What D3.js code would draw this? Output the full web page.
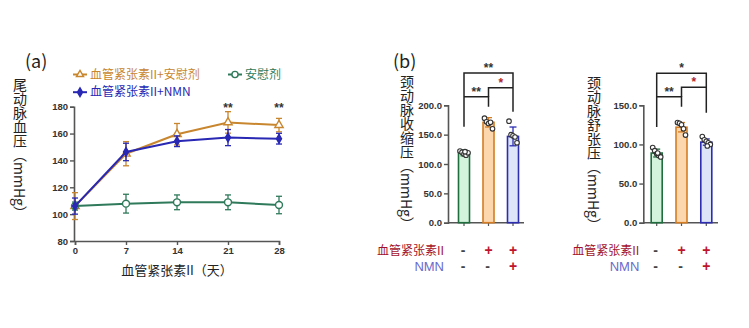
<!DOCTYPE html>
<html><head><meta charset="utf-8">
<script src="https://cdn.jsdelivr.net/npm/d3@7/dist/d3.min.js"></script>
<style>
html,body{margin:0;padding:0;background:#fff;}
svg{display:block;}
text{font-family:"Noto Sans CJK SC","Liberation Sans",sans-serif;}
.tick text{font-family:"Liberation Sans",Arial,sans-serif;font-weight:bold;font-size:9.5px;fill:#333;}
</style></head>
<body>
<svg id="chart" width="749" height="328"></svg>
<script>
// ---- Panel (a) data ----
const days = [0, 7, 14, 21, 28];
const angPlacebo = [106, 145, 159.5, 168.3, 166.3];
const angPlaceboErr = [10, 9, 8, 8, 5];
const angNMN = [106, 146.3, 154.3, 157, 156.2];
const angNMNErr = [6, 6.5, 4, 6, 4];
const placebo = [106, 107.8, 108.8, 108.8, 106.8];
const placeboErr = [3, 7, 5.5, 5.5, 6.5];
const yTicksA = [80, 100, 120, 140, 160, 180];
const sigA = [{day: 21, label: "**"}, {day: 28, label: "**"}];

// ---- Panel (b)/(c) data ----
const groups = ["安慰剂", "血管紧张素II+安慰剂", "血管紧张素II+NMN"];
const sbpMean = [119, 171, 147];
const sbpErr = [5, 8, 16];
const sbpDots = [[122, 120, 117, 115, 119, 121], [178, 172, 169, 171, 160], [173, 150, 148, 146, 136]];
const dbpMean = [89, 122, 103];
const dbpErr = [5, 6, 4];
const dbpDots = [[96, 92, 88, 86, 84, 89], [128, 127, 125, 120, 112], [110, 106, 104, 102, 100, 98]];
const yTicksB = [0, 50, 100, 150, 200];
const yTicksC = [0, 50, 100, 150];
const angRow = ["-", "+", "+"];
const nmnRow = ["-", "-", "+"];

const cGreen = "#2f7a5a", cOrange = "#c8862e", cBlue = "#2828b4";
const barFill = ["#d3f3dd", "#fcd7ae", "#dde6f8"];
const barStroke = ["#1f6e3e", "#d47d22", "#2d2db2"];
const dotOffsets = [-4, -2, 0, 2, 4, 1];

const svg = d3.select("#chart");

// ================= Panel (a) =================
const xA = d3.scaleLinear().domain([0, 28]).range([75, 279]);
const yA = d3.scaleLinear().domain([80, 180]).range([241, 106.7]);

const gA = svg.append("g");
const axA = gA.append("g").attr("transform", "translate(74,0)")
  .call(d3.axisLeft(yA).tickValues(yTicksA).tickSize(4).tickPadding(2));
const axAx = gA.append("g").attr("transform", "translate(0,241)")
  .call(d3.axisBottom(xA).tickValues(days).tickSize(4).tickPadding(2));
[axA, axAx].forEach(a => {
  a.select(".domain").attr("stroke", "#555").attr("stroke-width", 1.6);
  a.selectAll(".tick line").attr("stroke", "#555").attr("stroke-width", 1.4);
});

function series(vals, errs, color, marker) {
  const pts = days.map((d, i) => ({x: d, y: vals[i], e: errs[i]}));
  const g = gA.append("g");
  g.append("path").datum(pts)
    .attr("fill", "none").attr("stroke", color).attr("stroke-width", 2)
    .attr("d", d3.line().x(p => xA(p.x)).y(p => yA(p.y)));
  const eb = g.selectAll(".eb").data(pts).enter().append("g");
  eb.append("line").attr("x1", p => xA(p.x)).attr("x2", p => xA(p.x))
    .attr("y1", p => yA(p.y - p.e)).attr("y2", p => yA(p.y + p.e))
    .attr("stroke", color).attr("stroke-width", 1.3);
  [-1, 1].forEach(s => {
    eb.append("line").attr("x1", p => xA(p.x) - 3).attr("x2", p => xA(p.x) + 3)
      .attr("y1", p => yA(p.y + s * p.e)).attr("y2", p => yA(p.y + s * p.e))
      .attr("stroke", color).attr("stroke-width", 1.3);
  });
  g.selectAll(".mk").data(pts).enter().append("path")
    .attr("transform", p => `translate(${xA(p.x)},${yA(p.y)})`)
    .attr("d", d3.symbol().type(marker).size(marker === d3.symbolCircle ? 38 : (marker === d3.symbolDiamond ? 22 : 30)))
    .attr("fill", marker === d3.symbolDiamond ? color : "#fff")
    .attr("stroke", color).attr("stroke-width", 1.4);
}
series(angPlacebo, angPlaceboErr, cOrange, d3.symbolTriangle);
series(placebo, placeboErr, cGreen, d3.symbolCircle);
series(angNMN, angNMNErr, cBlue, d3.symbolDiamond);

gA.selectAll(".sig").data(sigA).enter().append("text")
  .attr("x", d => xA(d.day)).attr("y", 112).attr("text-anchor", "middle")
  .attr("font-size", 12).attr("font-weight", "bold").attr("fill", "#333")
  .style("font-family", "Liberation Sans, Arial").text(d => d.label);

// Legend
function legendItem(x, y, color, marker, label) {
  const g = svg.append("g");
  g.append("line").attr("x1", x).attr("x2", x + 14).attr("y1", y).attr("y2", y)
    .attr("stroke", color).attr("stroke-width", 2);
  g.append("path").attr("transform", `translate(${x + 7},${y})`)
    .attr("d", d3.symbol().type(marker).size(marker === d3.symbolCircle ? 30 : 22))
    .attr("fill", marker === d3.symbolDiamond ? color : "#fff")
    .attr("stroke", color).attr("stroke-width", 1.4);
  g.append("text").attr("x", x + 17).attr("y", y + 4.2).attr("font-size", 12)
    .attr("fill", color).text(label);
}
legendItem(73, 74.5, cOrange, d3.symbolTriangle, groups[1]);
legendItem(228, 74.5, cGreen, d3.symbolCircle, groups[0]);
legendItem(73, 92.2, cBlue, d3.symbolDiamond, groups[2]);

svg.append("text").attr("x", 25).attr("y", 68).attr("font-size", 18).attr("fill", "#222").text("(a)");
svg.append("text").attr("x", 393).attr("y", 68).attr("font-size", 18).attr("fill", "#222").text("(b)");

function vlabel(x, y, s) {
  svg.append("text").attr("x", x).attr("y", y).attr("font-size", 14).attr("fill", "#222")
    .style("writing-mode", "vertical-rl").text(s);
}
vlabel(20, 78, "尾动脉血压（mmHg）");
vlabel(407, 75, "颈动脉收缩压（mmHg）");
vlabel(594, 76, "颈动脉舒张压（mmHg）");

svg.append("text").attr("x", 177).attr("y", 275).attr("text-anchor", "middle")
  .attr("font-size", 13).attr("fill", "#222").text("血管紧张素II（天）");

// ================= Bar panels =================
function barPanel(axisX, xLeft, xRight, axisEnd, yMax, ticks, means, errs, dots, br) {
  const x = d3.scalePoint().domain(groups).range([xLeft, xRight]);
  const y = d3.scaleLinear().domain([0, yMax]).range([222.7, 105.3]);
  const g = svg.append("g");
  const ax = g.append("g").attr("transform", `translate(${axisX},0)`)
    .call(d3.axisLeft(y).tickValues(ticks).tickFormat(d3.format(".1f")).tickSize(4).tickPadding(2));
  ax.select(".domain").attr("stroke", "#555").attr("stroke-width", 1.6);
  ax.selectAll(".tick line").attr("stroke", "#555").attr("stroke-width", 1.4);
  g.append("line").attr("x1", axisX).attr("x2", axisEnd).attr("y1", 222.7).attr("y2", 222.7)
    .attr("stroke", "#555").attr("stroke-width", 1.6);
  groups.forEach((gr) => {
    g.append("line").attr("x1", x(gr)).attr("x2", x(gr)).attr("y1", 222.7).attr("y2", 226)
      .attr("stroke", "#555").attr("stroke-width", 1.2);
  });
  const bw = 11;
  groups.forEach((gr, i) => {
    const cx = x(gr);
    g.append("rect").attr("x", cx - bw / 2).attr("y", y(means[i])).attr("width", bw)
      .attr("height", y(0) - y(means[i])).attr("fill", barFill[i])
      .attr("stroke", barStroke[i]).attr("stroke-width", 1.6);
    g.append("line").attr("x1", cx).attr("x2", cx).attr("y1", y(means[i] - errs[i])).attr("y2", y(means[i] + errs[i]))
      .attr("stroke", barStroke[i]).attr("stroke-width", 1.3);
    [-1, 1].forEach(s => g.append("line").attr("x1", cx - 3.5).attr("x2", cx + 3.5)
      .attr("y1", y(means[i] + s * errs[i])).attr("y2", y(means[i] + s * errs[i]))
      .attr("stroke", barStroke[i]).attr("stroke-width", 1.3));
    g.selectAll(null).data(dots[i]).enter().append("circle")
      .attr("cx", (d, j) => cx + dotOffsets[j]).attr("cy", d => y(d)).attr("r", 2.3)
      .attr("fill", "#fff").attr("stroke", "#333").attr("stroke-width", 1.1);
  });
  // brackets
  const xs = groups.map(gr => x(gr));
  const path = (pts) => g.append("path").attr("d", d3.line()(pts)).attr("fill", "none")
    .attr("stroke", "#222").attr("stroke-width", 1.5);
  path([[xs[0], br.gEnd], [xs[0], br.top], [xs[2], br.top], [xs[2], br.bEnd]]);
  path([[xs[0], br.mid], [xs[1], br.mid], [xs[1], br.oEnd]]);
  path([[xs[1], br.mid], [xs[1], br.red], [xs[2], br.red]]);
  const star = (xx, yy, s, col) => g.append("text").attr("x", xx).attr("y", yy).attr("text-anchor", "middle")
    .attr("font-size", 12).attr("font-weight", "bold").attr("fill", col)
    .style("font-family", "Liberation Sans, Arial").text(s);
  star((xs[0] + xs[2]) / 2, br.top - 1, br.topLabel, "#333");
  star((xs[0] + xs[1]) / 2, br.mid - 1, "**", "#333");
  star((xs[1] + xs[2]) / 2, br.red - 1, "*", "#b0242c");

  // table
  const labelX = axisX - 4;
  g.append("text").attr("x", labelX).attr("y", 255).attr("text-anchor", "end").attr("font-size", 12)
    .attr("fill", "#a3122b").text("血管紧张素II");
  g.append("text").attr("x", labelX).attr("y", 271).attr("text-anchor", "end").attr("font-size", 13)
    .attr("fill", "#6a6acc").style("font-family", "Liberation Sans, Arial").text("NMN");
  [angRow, nmnRow].forEach((row, r) => {
    row.forEach((s, i) => g.append("text").attr("x", xs[i] - 1 + (s === "-" ? 0 : 1)).attr("y", 255 + r * 16)
      .attr("text-anchor", "middle").attr("font-size", 14).attr("font-weight", "bold")
      .style("font-family", "Liberation Sans, Arial")
      .attr("fill", s === "+" ? "#c0142c" : "#444").text(s));
  });
}
barPanel(448, 464, 513, 524, 200, yTicksB, sbpMean, sbpErr, sbpDots,
  {top: 73, mid: 96.7, red: 87.7, gEnd: 126.7, bEnd: 111.7, oEnd: 106.7, topLabel: "**"});
barPanel(643.3, 656.7, 706.3, 718, 150, yTicksC, dbpMean, dbpErr, dbpDots,
  {top: 73.3, mid: 96.7, red: 87.3, gEnd: 127, bEnd: 112.7, oEnd: 106.7, topLabel: "*"});
</script>
</body></html>
